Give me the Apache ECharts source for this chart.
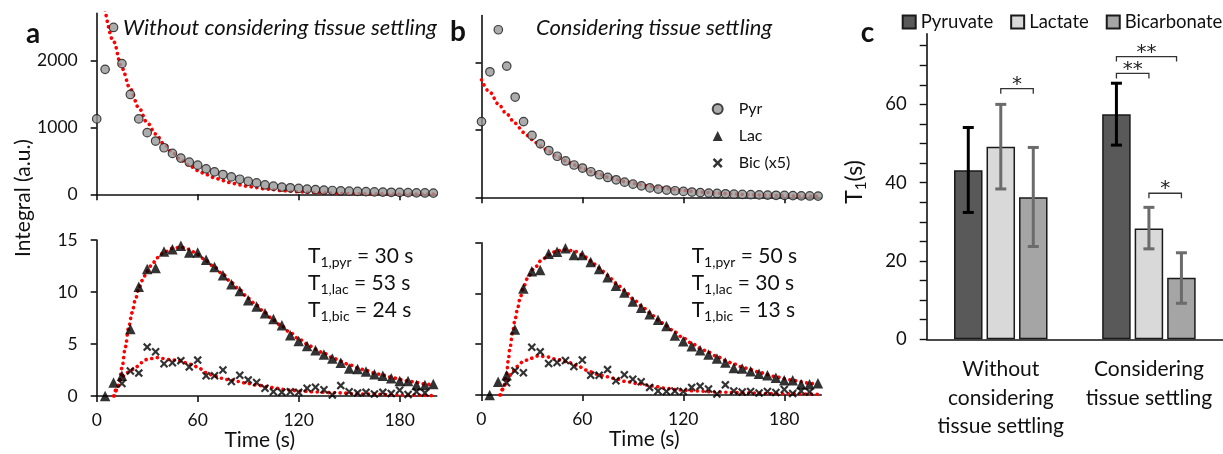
<!DOCTYPE html>
<html><head><meta charset="utf-8">
<script src="https://cdn.jsdelivr.net/npm/echarts@6/dist/echarts.min.js"></script>
<style>html,body{margin:0;padding:0;background:#fff}#c{width:1223px;height:454px}</style>
</head><body><div id="c"></div>
<script>
// ---------- data: panels a & b (same measured signal, different fits) ----------
const TIME = [0,5,10,15,20,25,30,35,40,45,50,55,60,65,70,75,80,85,90,95,100,105,110,115,120,125,130,135,140,145,150,155,160,165,170,175,180,185,190,195,200];
const PYR = [1125,1865,2490,1950,1490,1125,920,795,695,610,540,480,435,380,335,295,260,225,195,170,140,122,108,97,88,78,70,63,57,52,47,43,39,36,33,30,28,25,22,20,18];
const LAC = [null,0,1.3,1.95,6.45,10.5,12.2,12.3,13.9,14.1,14.45,13.8,13.8,13.1,12.4,11.6,10.75,10.1,9.2,8.6,7.95,7.4,6.8,5.85,5.3,4.8,4.4,4.0,3.6,3.2,2.65,2.6,2.35,2.1,1.95,1.7,1.45,1.45,1.05,1.05,1.15];
const BIC = [null,null,null,1.2,2.4,2.2,4.7,4.25,3.1,3.2,3.4,2.8,3.45,1.95,1.95,2.5,1.4,2.0,1.55,1.3,0.75,0.4,0.35,0.4,0.35,0.75,0.85,0.6,0.1,1.0,0.4,0.3,0.35,0.2,0.35,0.25,0.55,0.15,0.4,0.3,null];

// fits, panel a (without tissue settling)
const FIT_A_PYR_T = [5,10,15,20,25,30,35,40,45,50,55,60,65,70,75,80,85,90,95,100,105,110,115,120,130,140,150,160,170,180,190,200];
const FIT_A_PYR = [2750,2280,1880,1570,1290,1070,900,750,620,515,430,355,295,245,205,170,140,117,97,80,67,55,46,38,26,18,12,8,6,4,3,2];
const FIT_A_LAC_T = [10.5,12,13.5,15,17,19,21,23,25,27,30,33,36,40,45,50,55,60,65,70,75,80,85,90,95,100,105,110,115,120,125,130,135,140,145,150,155,160,165,170,175,180,185,190,195,200];
const FIT_A_LAC = [0,0.6,1.5,2.7,4.7,6.6,8.0,9.3,10.3,11.1,12.0,12.7,13.3,13.8,14.2,14.3,14.1,13.6,13.0,12.4,11.7,10.9,10.2,9.4,8.7,8.0,7.3,6.7,6.1,5.5,5.0,4.5,4.1,3.7,3.35,3.0,2.7,2.45,2.2,2.0,1.8,1.6,1.45,1.3,1.15,1.05];
const FIT_A_BIC_T = [10,12.5,14.5,17.5,20.5,23.5,26.5,29.5,32.5,35.5,39.5,43.5,47.5,53,57,61,65,69,74,79,84,89,95,101,107,113,121,131,140,160,180,200];
const FIT_A_BIC = [0,0.9,1.7,2.2,2.5,2.8,3.2,3.5,3.6,3.7,3.6,3.5,3.45,3.2,3.0,2.65,2.25,2.0,1.7,1.55,1.4,1.22,1.06,0.9,0.74,0.58,0.48,0.38,0.32,0.19,0.1,0.03];

// fits, panel b (considering tissue settling)
const FIT_B_PYR_T = [0,5,10,15,20,25,30,35,40,45,50,55,60,65,70,75,80,85,90,95,100,110,120,130,140,150,160,170,180,190,200];
const FIT_B_PYR = [1745,1560,1385,1235,1100,965,860,760,680,605,540,480,430,382,340,300,265,235,208,184,163,128,100,78,61,48,37,29,23,18,14];
const FIT_B_LAC_T = [11.5,13,15,16,17,18.5,20,21.5,23,25,27.5,31,36,40,45,50,55,60,65,70,75,80,85,90,95,100,105,110,115,120,125,130,135,140,145,150,155,160,165,170,175,180,185,190,195,200];
const FIT_B_LAC = [0,0.6,2.0,3.4,4.6,6.1,7.4,8.5,9.5,10.6,11.5,12.4,13.3,13.8,14.2,14.3,14.2,13.8,13.2,12.5,11.8,11.0,10.3,9.5,8.8,8.1,7.4,6.8,6.2,5.6,5.1,4.6,4.2,3.8,3.4,3.05,2.75,2.5,2.25,2.0,1.8,1.6,1.45,1.3,1.15,1.05];
const FIT_B_BIC_T = [11,13,15,18,21,25,29,34,39,45,51,56.5,62.5,68.5,74.5,80.5,86.5,94.5,102,110,118,128,140,154,174,200];
const FIT_B_BIC = [0,0.65,1.3,2.1,2.8,3.3,3.6,3.85,3.75,3.5,3.27,2.94,2.45,2.06,1.8,1.57,1.3,1.08,0.88,0.65,0.49,0.39,0.29,0.23,0.13,0.07];

const T1_SUBS = ['1,pyr','1,lac','1,bic'];
const T1_A = [30,53,24];
const T1_B = [50,30,13];

// tick labels
const TIME_TICKS = [0,60,120,180];
const PYR_TICKS = [0,1000,2000];
const MET_TICKS = [0,5,10,15];

// ---------- data: panel c ----------
const C_CATS = ['Without\nconsidering\ntissue settling','Considering\ntissue settling'];
const C_NAMES = ['Pyruvate','Lactate','Bicarbonate'];
const PYRUVATE = [43.2,57.5];
const LACTATE = [49.2,28.3];
const BICARB = [36.3,15.7];
const PYRUVATE_LO = [32.4,49.6], PYRUVATE_HI = [54.1,65.4];
const LACTATE_LO = [38.4,23.1], LACTATE_HI = [60.0,33.7];
const BICARB_LO = [23.7,9.2], BICARB_HI = [49.0,22.1];
const C_TICKS = [0,5,10,15,20,25,30,35,40,45,50,55,60,65,70,75];
const C_LABELS = [0,20,40,60];
const SIG_CAT = [0,1,1,1];
const SIG_FROM = [1,0,0,1];
const SIG_TO = [2,1,1.85,2];
const SIG_Y = [64,67.9,72.2,37.3];
const SIG_TEXT = ['*','**','**','*'];

// ---------- style ----------
const FONT = 'Lato';
const INK = '#111';
const BAR_W = 28.5, BAR_GAP = 4;
const C_COLORS = ['#595959','#d9d9d9','#a5a5a5'];
const ERR_COLORS = ['#000','#6b6b6b','#6b6b6b'];
const X_SYMBOL = 'path://M1.8,0L5,3.2L8.2,0L10,1.8L6.8,5L10,8.2L8.2,10L5,6.8L1.8,10L0,8.2L3.2,5L0,1.8Z';

const zip = (t, v) => t.map((x, i) => [x, v[i]]);
const pts = v => TIME.map((t, i) => [t, v[i]]).filter(p => p[1] != null);
const plain = v => String(v);

function timeAxis(g, labels) {
  return {
    type: 'value', gridIndex: g, min: 0, max: 202,
    axisLine: {show: true, onZero: false, lineStyle: {color: INK, width: 1.6}},
    axisTick: {show: true, customValues: TIME_TICKS, length: 6, lineStyle: {color: INK, width: 1.6}},
    axisLabel: {show: labels, customValues: TIME_TICKS, formatter: plain, fontSize: 17.5, color: INK, margin: 15, fontFamily: FONT},
    splitLine: {show: false},
    name: labels ? 'Time (s)' : '', nameLocation: 'middle', nameGap: 33,
    nameTextStyle: {fontSize: 21, color: INK, fontFamily: FONT, padding: [0, 14, 0, 0]}
  };
}
function valAxis(g, max, ticks, labels) {
  return {
    type: 'value', gridIndex: g, min: 0, max: max,
    axisLine: {show: true, onZero: false, lineStyle: {color: INK, width: 1.6}},
    axisTick: {show: true, customValues: ticks, length: 6, lineStyle: {color: INK, width: 1.6}},
    axisLabel: {show: labels, customValues: ticks, formatter: plain, fontSize: 17.5, color: INK, margin: 19, fontFamily: FONT},
    splitLine: {show: false}
  };
}

const fitStyle = {color: '#ff0000', width: 3.6, type: [0.1, 5.6], cap: 'round'};
function fit(name, xi, data) {
  return {type: 'line', name: name, xAxisIndex: xi, yAxisIndex: xi, data: data, showSymbol: false,
    smooth: 0.35, smoothMonotone: 'x', lineStyle: fitStyle, z: 2, silent: true, clip: true};
}
const pyrStyle = {type: 'scatter', name: 'Pyr', symbol: 'circle', symbolSize: 8.5,
  itemStyle: {color: '#979797', borderColor: '#1a1a1a', borderWidth: 1.2}, z: 3};
const lacStyle = {type: 'scatter', name: 'Lac', symbol: 'triangle', symbolSize: 10.5,
  itemStyle: {color: '#000'}, z: 3};
const bicStyle = {type: 'scatter', name: 'Bic (x5)', symbol: X_SYMBOL, symbolSize: 8.5,
  itemStyle: {color: '#000'}, z: 3};

function t1Text(vals) {
  return T1_SUBS.map((s, i) => '{t|T}{s|' + s + '}{m| = ' + vals[i] + ' s}').join('\n');
}
const t1Rich = {
  t: {fontSize: 21, lineHeight: 27, fontFamily: FONT, fill: INK},
  s: {fontSize: 14, lineHeight: 14, fontFamily: FONT, fill: INK, verticalAlign: 'bottom'},
  m: {fontSize: 21, lineHeight: 27, fontFamily: FONT, fill: INK}
};

const errData = [];
[[PYRUVATE_LO, PYRUVATE_HI], [LACTATE_LO, LACTATE_HI], [BICARB_LO, BICARB_HI]].forEach((pair, k) => {
  C_CATS.forEach((c, ci) => errData.push([ci, pair[0][ci], pair[1][ci], k]));
});
const sigData = SIG_CAT.map((c, i) => [c, SIG_FROM[i], SIG_TO[i], SIG_Y[i]]);

const option = {
  animation: false,
  textStyle: {fontFamily: FONT},
  grid: [
    {left: 96.7, top: 13.4, width: 340, height: 180.9},
    {left: 96.7, top: 240, width: 340, height: 156},
    {left: 481.5, top: 15.6, width: 340, height: 181.7},
    {left: 481.3, top: 242.7, width: 340, height: 152.3},
    {left: 926.7, top: 33.9, width: 296.3, height: 305.4}
  ],
  xAxis: [
    timeAxis(0, false), timeAxis(1, true), timeAxis(2, false), timeAxis(3, true),
    {type: 'category', gridIndex: 4, data: C_CATS,
      axisLine: {show: true, lineStyle: {color: INK, width: 1.6}}, axisTick: {show: false},
      axisLabel: {fontSize: 21, lineHeight: 28.5, color: INK, margin: 16, fontFamily: FONT, interval: 0}}
  ],
  yAxis: [
    valAxis(0, 2700, PYR_TICKS, true), valAxis(1, 15, MET_TICKS, true),
    valAxis(2, 2700, PYR_TICKS, false), valAxis(3, 15, MET_TICKS, false),
    {type: 'value', gridIndex: 4, min: 0, max: 78,
      axisLine: {show: true, lineStyle: {color: INK, width: 1.6}},
      axisTick: {show: true, customValues: C_TICKS, length: 7, lineStyle: {color: INK, width: 1.4}},
      axisLabel: {customValues: C_LABELS, formatter: plain, fontSize: 18.5, color: INK, margin: 20, fontFamily: FONT},
      splitLine: {show: false}}
  ],
  legend: [
    {data: ['Pyr', 'Lac', 'Bic (x5)'], orient: 'vertical', left: 706.7, top: 95, itemWidth: 10, itemHeight: 10,
      itemGap: 9, selectedMode: false, textStyle: {fontSize: 16, color: INK, fontFamily: FONT, lineHeight: 18, padding: [0, 0, 0, 11]}},
    {data: C_NAMES, orient: 'horizontal', left: 901.7, top: 12, width: 340, itemWidth: 13, itemHeight: 13, itemGap: 17,
      icon: 'rect', selectedMode: false, padding: 0, textStyle: {fontSize: 18.5, color: INK, fontFamily: FONT, lineHeight: 20}}
  ],
  graphic: [
    {type: 'text', style: {x: 33, y: 34, text: 'a', font: 'bold 28px ' + FONT, fill: INK, align: 'center', verticalAlign: 'middle'}},
    {type: 'text', style: {x: 458, y: 32, text: 'b', font: 'bold 28px ' + FONT, fill: INK, align: 'center', verticalAlign: 'middle'}},
    {type: 'text', style: {x: 867.5, y: 33, text: 'c', font: 'bold 28px ' + FONT, fill: INK, align: 'center', verticalAlign: 'middle'}},
    {type: 'text', style: {x: 123, y: 28, text: 'Without considering tissue settling', font: 'italic 22px ' + FONT, fill: INK, align: 'left', verticalAlign: 'middle'}},
    {type: 'text', style: {x: 536, y: 28, text: 'Considering tissue settling', font: 'italic 22px ' + FONT, fill: INK, align: 'left', verticalAlign: 'middle'}},
    {type: 'text', x: 23, y: 198, rotation: Math.PI / 2, style: {x: 0, y: 0, text: 'Integral (a.u.)', font: '21px ' + FONT, fill: INK, align: 'center', verticalAlign: 'middle'}},
    {type: 'text', x: 855, y: 182, rotation: Math.PI / 2, style: {x: 0, y: 0, text: '{m|T}{s|1}{m|(s)}', align: 'center', verticalAlign: 'middle',
      rich: {m: {fontSize: 23, lineHeight: 28, fontFamily: FONT, fill: INK}, s: {fontSize: 15, lineHeight: 14, fontFamily: FONT, fill: INK, verticalAlign: 'bottom'}}}},
    {type: 'text', style: {x: 308, y: 242.5, text: t1Text(T1_A), rich: t1Rich, align: 'left', verticalAlign: 'top'}},
    {type: 'text', style: {x: 691.7, y: 242.5, text: t1Text(T1_B), rich: t1Rich, align: 'left', verticalAlign: 'top'}}
  ],
  series: [
    fit('fitA0', 0, zip(FIT_A_PYR_T, FIT_A_PYR)),
    fit('fitA1', 1, zip(FIT_A_LAC_T, FIT_A_LAC)),
    fit('fitA2', 1, zip(FIT_A_BIC_T, FIT_A_BIC)),
    fit('fitB0', 2, zip(FIT_B_PYR_T, FIT_B_PYR)),
    fit('fitB1', 3, zip(FIT_B_LAC_T, FIT_B_LAC)),
    fit('fitB2', 3, zip(FIT_B_BIC_T, FIT_B_BIC)),
    Object.assign({}, pyrStyle, {xAxisIndex: 0, yAxisIndex: 0, data: pts(PYR)}),
    Object.assign({}, lacStyle, {xAxisIndex: 1, yAxisIndex: 1, data: pts(LAC)}),
    Object.assign({}, bicStyle, {xAxisIndex: 1, yAxisIndex: 1, data: pts(BIC)}),
    Object.assign({}, pyrStyle, {xAxisIndex: 2, yAxisIndex: 2, data: pts(PYR)}),
    Object.assign({}, lacStyle, {xAxisIndex: 3, yAxisIndex: 3, data: pts(LAC)}),
    Object.assign({}, bicStyle, {xAxisIndex: 3, yAxisIndex: 3, data: pts(BIC)}),
    {type: 'bar', name: 'Pyruvate', xAxisIndex: 4, yAxisIndex: 4, data: PYRUVATE, barWidth: BAR_W, barGap: (BAR_GAP / BAR_W * 100) + '%',
      itemStyle: {color: C_COLORS[0], borderColor: '#1a1a1a', borderWidth: 1.5}},
    {type: 'bar', name: 'Lactate', xAxisIndex: 4, yAxisIndex: 4, data: LACTATE, barWidth: BAR_W, barGap: (BAR_GAP / BAR_W * 100) + '%',
      itemStyle: {color: C_COLORS[1], borderColor: '#1a1a1a', borderWidth: 1.5}},
    {type: 'bar', name: 'Bicarbonate', xAxisIndex: 4, yAxisIndex: 4, data: BICARB, barWidth: BAR_W, barGap: (BAR_GAP / BAR_W * 100) + '%',
      itemStyle: {color: C_COLORS[2], borderColor: '#1a1a1a', borderWidth: 1.5}},
    {type: 'custom', name: 'err', xAxisIndex: 4, yAxisIndex: 4, data: errData, z: 5, silent: true,
      renderItem: function (params, api) {
        const cat = api.value(0), k = api.value(3);
        const x = api.coord([cat, 0])[0] + (k - 1) * (BAR_W + BAR_GAP);
        const yl = api.coord([cat, api.value(1)])[1], yh = api.coord([cat, api.value(2)])[1];
        const st = {stroke: ERR_COLORS[k], lineWidth: 3};
        const cw = 5.5;
        return {type: 'group', children: [
          {type: 'line', shape: {x1: x, y1: yh, x2: x, y2: yl}, style: st},
          {type: 'line', shape: {x1: x - cw, y1: yh, x2: x + cw, y2: yh}, style: st},
          {type: 'line', shape: {x1: x - cw, y1: yl, x2: x + cw, y2: yl}, style: st}
        ]};
      }},
    {type: 'custom', name: 'sig', xAxisIndex: 4, yAxisIndex: 4, data: sigData, z: 5, silent: true,
      renderItem: function (params, api) {
        const cat = api.value(0);
        const base = api.coord([cat, 0])[0];
        const x1 = base + (api.value(1) - 1) * (BAR_W + BAR_GAP);
        const x2 = base + (api.value(2) - 1) * (BAR_W + BAR_GAP);
        const y = api.coord([cat, api.value(3)])[1];
        const st = {stroke: '#333', lineWidth: 1.3, fill: null};
        return {type: 'group', children: [
          {type: 'polyline', shape: {points: [[x1, y + 5], [x1, y], [x2, y], [x2, y + 5]]}, style: st},
          {type: 'text', style: {x: (x1 + x2) / 2, y: y - 4, text: SIG_TEXT[params.dataIndex], font: '20px DejaVu Sans',
            fill: '#222', align: 'center', verticalAlign: 'middle'}}
        ]};
      }}
  ]
};
const chart = echarts.init(document.getElementById('c'));
chart.setOption(option);
</script></body></html>
